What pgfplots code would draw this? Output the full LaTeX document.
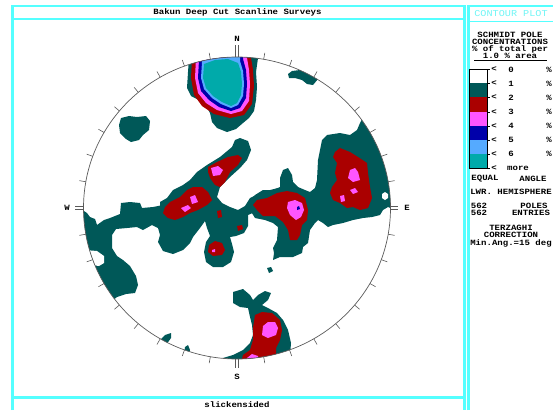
\documentclass[border=0pt]{standalone}
\usepackage{fontspec}
\setmainfont{Liberation Mono}
\newfontfamily\pixfont{Liberation Mono}[FakeStretch=1.13]
\usepackage{pgfplots}
\pgfplotsset{compat=1.18}
\definecolor{tealA}{RGB}{0,88,88}
\definecolor{redA}{RGB}{170,0,0}
\definecolor{magA}{RGB}{255,85,255}
\definecolor{blueA}{RGB}{0,0,170}
\definecolor{lblueA}{RGB}{85,170,255}
\definecolor{cyanA}{RGB}{0,170,170}
\definecolor{frameA}{RGB}{85,255,255}
\definecolor{hdrA}{RGB}{110,245,245}
\definecolor{circA}{RGB}{90,90,90}
\newcommand\tx{\pixfont\fontsize{8}{8}\selectfont\bfseries}
\begin{document}
\begin{tikzpicture}[every node/.style={inner sep=0.5pt}]
\begin{scope}
\clip (237pt,202pt) ellipse [x radius=153.5pt, y radius=151pt];
\begin{axis}[at={(0,0)}, anchor=south west, width=553pt, height=410pt, scale only axis,
  xmin=0, xmax=553, ymin=0, ymax=410, y dir=reverse, hide axis, clip=false]
% level 1 (teal)
\addplot[fill=tealA, draw=none] coordinates {(189,50) (189,58) (188,72) (187,88) (191,96) (199,100) (206,106) (210,113) (212,122) (217,128) (227,132) (236,129) (243,123) (249,118) (254,111) (256,100) (257,87) (256,72) (258,58) (258,50)} -- cycle;
\addplot[fill=tealA, draw=none] coordinates {(288,74) (292,71) (300,70) (308,70) (315,72) (318,79) (313,85) (307,84) (302,80) (295,78) (289,78)} -- cycle;
\addplot[fill=tealA, draw=none] coordinates {(121,118) (129,116) (137,117) (146,116) (150,121) (149,130) (143,135) (139,140) (131,142) (126,139) (120,133) (119,125)} -- cycle;
\addplot[fill=tealA, draw=none] coordinates {(75,205) (87,213) (90,217) (95,219) (97,225) (104,220) (110,218) (115,216) (120,214) (121,203) (130,202) (140,203) (142,208) (153,207) (163,205) (168,210) (168,228) (158,228) (152,225) (143,230) (137,227) (127,228) (116,229) (112,235) (112,248) (117,256) (123,260) (130,266) (136,276) (138,285) (135,293) (126,294) (117,297) (112,301) (100,310) (75,310)} -- cycle;
\addplot[fill=tealA, draw=none] coordinates {(160,202) (167,198) (173,190) (183,185) (190,180) (197,172) (207,165) (220,157) (232,147) (235,140) (240,138) (248,141) (251,150) (247,160) (240,168) (230,177) (220,187) (217,197) (222,203) (230,207) (238,210) (245,206) (250,198) (260,193) (270,190) (278,188) (280,195) (270,205) (255,212) (248,215) (248,226) (244,233) (236,236) (230,237) (232,244) (234,252) (231,262) (223,267) (213,267) (206,262) (204,252) (206,242) (210,236) (207,228) (205,221) (200,228) (193,237) (190,243) (183,250) (173,254) (163,251) (158,242) (160,235) (158,228) (162,220) (160,212)} -- cycle;
\addplot[fill=tealA, draw=none] coordinates {(280,187) (280,178) (283,170) (288,168) (292,175) (293,182) (298,187) (305,190) (310,192) (315,188) (317,180) (318,160) (320,150) (322,140) (327,135) (340,133) (350,135) (357,130) (360,123) (363,117) (368,115) (380,125) (400,140) (400,212) (388,207) (383,210) (380,215) (372,217) (363,218) (353,220) (343,223) (333,225) (328,227) (323,223) (318,220) (315,223) (310,230) (308,243) (303,247) (302,253) (293,257) (280,257) (273,260) (274,253) (273,248) (277,240) (278,227) (273,223) (265,220) (255,218) (250,210) (250,200) (255,195) (263,190) (273,190)} -- cycle;
\addplot[fill=tealA, draw=none] coordinates {(233,292) (243,289) (250,295) (253,300) (258,295) (265,291) (271,293) (268,300) (262,305) (268,308) (277,313) (283,320) (288,330) (291,343) (290,356) (282,370) (215,370) (223,358) (233,355) (243,350) (250,343) (253,335) (252,325) (250,317) (248,308) (240,307) (233,303)} -- cycle;
\addplot[fill=tealA, draw=none] coordinates {(160,340) (165,335) (171,333) (171,338) (166,345) (158,346)} -- cycle;
\addplot[fill=tealA, draw=none] coordinates {(185,347) (188,345) (190,350) (188,356) (184,354)} -- cycle;
\addplot[fill=tealA, draw=none] coordinates {(267,268) (271,267) (273,271) (269,273)} -- cycle;
% holes
\addplot[fill=white, draw=none] coordinates {(382,194) (385,192) (388,194) (388,198) (385,200) (382,198)} -- cycle;
\addplot[fill=white, draw=none] coordinates {(85,250) (97,251) (104,256) (104,263) (99,266) (85,264)} -- cycle;
% level 2 (red)
\addplot[fill=redA, draw=none] coordinates {(192,50) (192,58) (191,78) (194,95) (202,106) (214,114) (230,118) (244,115) (252,104) (254,86) (253,70) (251,58) (251,50)} -- cycle;
\addplot[fill=redA, draw=none] coordinates {(208,167) (217,162) (228,157) (238,155) (242,158) (238,165) (230,172) (225,182) (220,187) (215,185) (210,178) (208,172)} -- cycle;
\addplot[fill=redA, draw=none] coordinates {(165,207) (170,202) (180,197) (187,190) (193,187) (202,187) (208,192) (212,200) (207,205) (198,210) (190,213) (183,217) (175,220) (168,218) (163,213)} -- cycle;
\addplot[fill=redA, draw=none] coordinates {(217,211) (221,210) (222,217) (218,218)} -- cycle;
\addplot[fill=redA, draw=none] coordinates {(237,226) (242,225) (243,229) (238,231)} -- cycle;
\addplot[fill=redA, draw=none] coordinates {(209,245) (215,241) (222,243) (225,250) (222,255) (213,256) (208,252)} -- cycle;
\addplot[fill=redA, draw=none] coordinates {(257,200) (267,198) (277,193) (287,191) (297,193) (305,198) (308,210) (307,220) (302,225) (300,235) (297,240) (290,240) (288,230) (283,222) (275,216) (263,216) (257,210) (253,205)} -- cycle;
\addplot[fill=redA, draw=none] coordinates {(335,152) (340,148) (350,152) (358,157) (367,163) (368,173) (370,187) (372,198) (368,208) (360,210) (353,207) (347,208) (340,203) (333,200) (330,193) (332,187) (337,180) (335,173) (337,163) (333,157)} -- cycle;
\addplot[fill=redA, draw=none] coordinates {(255,315) (262,312) (272,313) (280,320) (282,330) (280,340) (276,348) (276,362) (240,366) (243,355) (250,350) (253,340) (253,328)} -- cycle;
% level 3 (magenta)
\addplot[fill=magA, draw=none] coordinates {(196,50) (196,58) (195,78) (198,93) (206,103) (217,110) (231,114) (242,111) (249,101) (250,84) (249,70) (247,58) (247,50)} -- cycle;
\addplot[fill=magA, draw=none] coordinates {(211,168) (218,166) (223,170) (220,175) (213,176)} -- cycle;
\addplot[fill=magA, draw=none] coordinates {(190,197) (195,195) (198,202) (192,204)} -- cycle;
\addplot[fill=magA, draw=none] coordinates {(181,208) (188,205) (191,208) (185,212)} -- cycle;
\addplot[fill=magA, draw=none] coordinates {(212,250) (215,249) (215,252) (212,252)} -- cycle;
\addplot[fill=magA, draw=none] coordinates {(288,202) (295,200) (302,203) (304,210) (301,217) (296,220) (290,215) (287,208)} -- cycle;
\addplot[fill=magA, draw=none] coordinates {(350,170) (355,168) (358,172) (360,180) (353,182) (348,178)} -- cycle;
\addplot[fill=magA, draw=none] coordinates {(350,190) (355,188) (358,192) (353,194)} -- cycle;
\addplot[fill=magA, draw=none] coordinates {(340,196) (344,195) (345,201) (341,202)} -- cycle;
\addplot[fill=magA, draw=none] coordinates {(263,326) (268,322) (275,322) (278,328) (276,335) (268,338) (262,335)} -- cycle;
\addplot[fill=magA, draw=none] coordinates {(247,358) (252,354) (258,356) (259,366) (246,366)} -- cycle;
% level 4 (blue)
\addplot[fill=blueA, draw=none] coordinates {(199,50) (199,60) (198,78) (201,91) (209,100) (219,107) (231,111) (240,108) (246,98) (247,84) (246,70) (243,59) (243,50)} -- cycle;
\addplot[fill=blueA, draw=none] coordinates {(297,207) (299,206) (300,209) (297,210)} -- cycle;
% level 5 (light blue)
\addplot[fill=lblueA, draw=none] coordinates {(202,50) (202,62) (201,78) (204,89) (212,98) (221,104) (231,108) (238,105) (243,96) (244,84) (243,71) (240,61) (240,50)} -- cycle;
% level 6 (cyan)
\addplot[fill=cyanA, draw=none] coordinates {(204,64) (203,78) (206,88) (213,96) (222,102) (231,106) (237,103) (241,95) (242,84) (241,72) (238,63) (228,59) (215,60)} -- cycle;
\end{axis}
\end{scope}
\begin{scope}[shift={(0pt,410pt)}, x=1pt, y=-1pt]
% frames
\draw[frameA, line width=2.2pt] (12.5,410) -- (12.5,6) -- (464.5,6) -- (464.5,410);
\draw[frameA, line width=2.2pt] (12.5,19) -- (464.5,19);
\draw[frameA, line width=2.2pt] (12.5,397.5) -- (464.5,397.5);
\draw[frameA, line width=2.2pt] (468.5,410) -- (468.5,6) -- (553,6);
\draw[frameA, line width=1.8pt] (468.5,21.5) -- (553,21.5);
% circle and ticks
\draw[circA, line width=0.7pt] (237,208) ellipse [x radius=153.5, y radius=151];
\foreach \a in {10,20,30,40,50,60,70,80,100,110,120,130,140,150,160,170,190,200,210,220,230,240,250,260,280,290,300,310,320,330,340,350}
  \draw[circA, line width=0.6pt] ({237+153.5*sin(\a)},{208-151*cos(\a)}) -- ({237+160*sin(\a)},{208-157.5*cos(\a)});
\foreach \dx in {-1.3,1.3} {
  \draw[circA, line width=0.6pt] (237+\dx,57) -- (237+\dx,45);
  \draw[circA, line width=0.6pt] (237+\dx,359) -- (237+\dx,368);
  \draw[circA, line width=0.6pt] (83,208+\dx) -- (75,208+\dx);
  \draw[circA, line width=0.6pt] (390.5,208+\dx) -- (398,208+\dx);
}
\node[font=\tx] at (237,39) {N};
\node[font=\tx] at (237,377) {S};
\node[font=\tx] at (67,208) {W};
\node[font=\tx] at (407,208) {E};
% titles
\node[font=\tx] at (237.5,12.5) {Bakun Deep Cut Scanline Surveys};
\node[font=\tx] at (237,405) {slickensided};
% right panel
\node[font=\pixfont\fontsize{9}{9}\selectfont, text=hdrA] at (511,13.5) {CONTOUR PLOT};
\node[font=\tx] at (510,35) {SCHMIDT POLE};
\node[font=\tx] at (510,42) {CONCENTRATIONS};
\node[font=\tx] at (510,49) {\% of total per};
\node[font=\tx] at (510,56) {1.0 \% area};
\draw[black, line width=0.6pt] (474,60) -- (547,60);
\fill[white] (469,69) rectangle (487,83);
\fill[tealA] (469,83) rectangle (487,97);
\fill[redA] (469,97) rectangle (487,112);
\fill[magA] (469,112) rectangle (487,126);
\fill[blueA] (469,126) rectangle (487,140);
\fill[lblueA] (469,140) rectangle (487,154);
\fill[cyanA] (469,154) rectangle (487,168);
\draw[black, line width=0.5pt] (469,69) rectangle (487,168);
\foreach \y/\v in {69.5/0,83.5/1,97.5/2,112/3,126/4,140/5,154/6} {
  \draw[black, line width=0.5pt] (487,\y) -- (490,\y);
  \node[font=\tx] at (494,\y) {<};
  \node[font=\tx] at (511,\y) {\v};
  \node[font=\tx] at (549,\y) {\%};
}
\draw[black, line width=0.5pt] (487,168) -- (490,168);
\node[font=\tx] at (494,168.5) {<};
\node[font=\tx] at (518,168.5) {more};
\node[font=\tx] at (485,179) {EQUAL};
\node[font=\tx] at (533,179) {ANGLE};
\node[font=\tx] at (511,192) {LWR. HEMISPHERE};
\node[font=\tx] at (479,206) {562};
\node[font=\tx] at (534,206) {POLES};
\node[font=\tx] at (479,213) {562};
\node[font=\tx] at (531,213) {ENTRIES};
\node[font=\tx] at (511,227.5) {TERZAGHI};
\node[font=\tx] at (511,234.5) {CORRECTION};
\node[font=\tx] at (511,243) {Min.Ang.=15 deg};
\end{scope}
\pgfresetboundingbox
\path[use as bounding box] (0,0) rectangle (553pt,410pt);
\end{tikzpicture}
\end{document}
